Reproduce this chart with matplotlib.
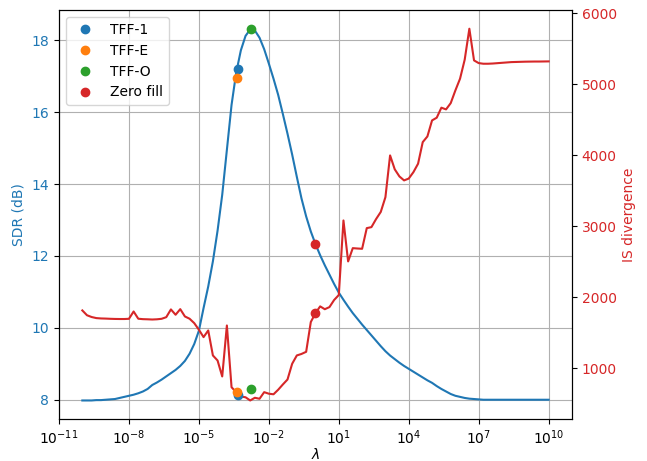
import numpy as np
import matplotlib
matplotlib.use("Agg")
import matplotlib.pyplot as plt
from matplotlib.ticker import NullLocator

# regularisation weights
lambdas = np.logspace(-10, 10, 101)

# SDR (dB) of the sweep, one value per lambda
sdr = [
    7.98, 7.98, 7.98, 7.99, 7.99, 8.00, 8.01, 8.02, 8.05, 8.08,
    8.11, 8.14, 8.18, 8.23, 8.30, 8.41, 8.48, 8.56, 8.65, 8.74,
    8.83, 8.94, 9.08, 9.28, 9.55, 9.92, 10.55, 11.15, 11.85, 12.70,
    13.70, 14.95, 16.20, 17.10, 17.72, 18.12, 18.30, 18.27, 18.07, 17.75,
    17.35, 16.93, 16.48, 15.95, 15.40, 14.82, 14.20, 13.60, 13.10, 12.68,
    12.33, 12.02, 11.74, 11.48, 11.22, 10.98, 10.78, 10.59, 10.41, 10.25,
    10.09, 9.94, 9.79, 9.64, 9.49, 9.35, 9.23, 9.13, 9.03, 8.94,
    8.86, 8.78, 8.70, 8.62, 8.54, 8.47, 8.38, 8.30, 8.23, 8.16,
    8.11, 8.08, 8.05, 8.03, 8.02, 8.01, 8.00, 8.00, 8.00, 8.00,
    8.00, 8.00, 8.00, 8.00, 8.00, 8.00, 8.00, 8.00, 8.00, 8.00,
    8.00,
]

# IS divergence of the sweep
is_div = [
    1813, 1745, 1720, 1705, 1700, 1698, 1695, 1693, 1692, 1692,
    1695, 1798, 1696, 1690, 1688, 1685, 1688, 1695, 1718, 1827,
    1752, 1831, 1728, 1696, 1634, 1541, 1437, 1531, 1179, 1108,
    883, 1601, 732, 660, 600, 590, 545, 583, 569, 662,
    640, 632, 696, 770, 840, 1062, 1179, 1200, 1230, 1650,
    1775, 1870, 1830, 1860, 1960, 2030, 3080, 2503, 2690, 2685,
    2681, 2972, 2986, 3100, 3200, 3408, 3996, 3800, 3700, 3644,
    3670, 3760, 3879, 4183, 4263, 4489, 4527, 4668, 4644, 4732,
    4911, 5076, 5344, 5780, 5334, 5296, 5287, 5287, 5290, 5295,
    5300, 5305, 5310, 5312, 5314, 5316, 5317, 5318, 5318, 5319,
    5320,
]

# chosen operating points
methods = ["TFF-1", "TFF-E", "TFF-O", "Zero fill"]
method_lambda = [4.6e-4, 4.2e-4, 1.65e-3, 1.0]
method_sdr = [17.19, 16.95, 18.32, 12.32]
method_is = [615, 662, 700, 1775]
colors = ["C0", "C1", "C2", "C3"]

fig, ax1 = plt.subplots(figsize=(6.47, 4.61), dpi=100)
fig.subplots_adjust(left=0.0912, right=0.884, top=0.978, bottom=0.091)

ax1.plot(lambdas, sdr, color="C0")
for name, lam, s, c in zip(methods, method_lambda, method_sdr, colors):
    ax1.plot(lam, s, "o", color=c, label=name)
ax1.set_xscale("log")
ax1.xaxis.set_minor_locator(NullLocator())
ax1.set_xlabel(r"$\lambda$", labelpad=0)
ax1.set_ylabel("SDR (dB)", color="C0")
ax1.tick_params(axis="y", labelcolor="C0")
ax1.grid(True)
ax1.legend(loc="upper left")

ax2 = ax1.twinx()
ax2.plot(lambdas, is_div, color="C3")
for lam, v, c in zip(method_lambda, method_is, colors):
    ax2.plot(lam, v, "o", color=c)
ax2.set_ylabel("IS divergence", color="C3")
ax2.tick_params(axis="y", labelcolor="C3")

fig.savefig("out.png", dpi=100)
